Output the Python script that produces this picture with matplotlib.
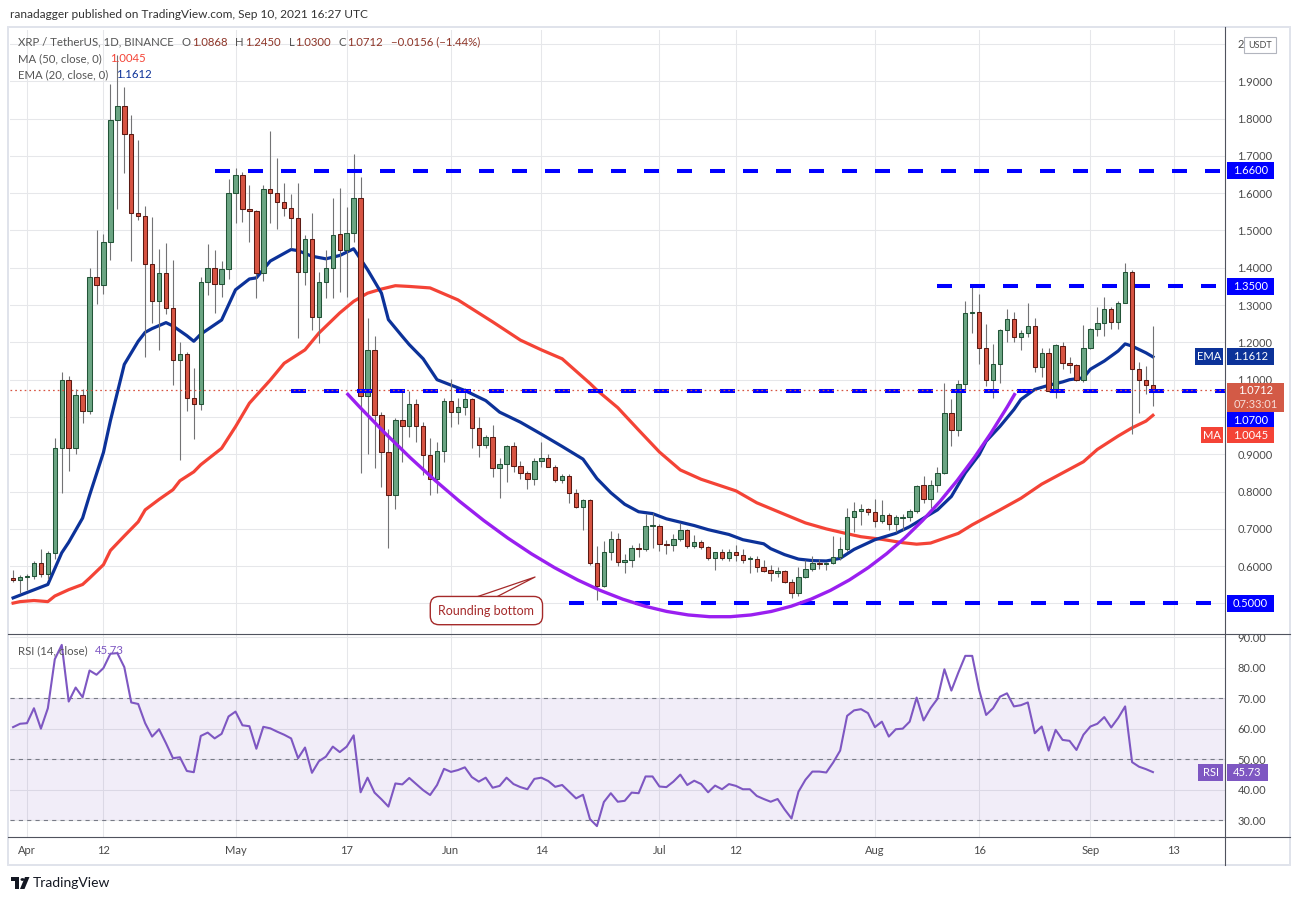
import numpy as np
import pandas as pd
import matplotlib
matplotlib.use("Agg")
import matplotlib.pyplot as plt
from matplotlib.patches import Rectangle, PathPatch, Circle, Polygon
from matplotlib.path import Path

plt.rcParams['font.family'] = ['Lato', 'DejaVu Sans']
plt.rcParams['lines.scale_dashes'] = False

# ---------------- data (XRP/USDT daily, 2021-03-30 .. 2021-09-10) ----------------
start_date = "2021-03-30"
opens = [0.567, 0.563, 0.572, 0.573, 0.609, 0.580, 0.636, 0.918, 1.098, 0.916,
         1.058, 1.017, 1.375, 1.353, 1.468, 1.796, 1.834, 1.760, 1.548, 1.540,
         1.409, 1.310, 1.385, 1.291, 1.153, 1.170, 1.050, 1.036, 1.363, 1.400,
         1.357, 1.397, 1.600, 1.650, 1.558, 1.553, 1.386, 1.612, 1.601, 1.577,
         1.561, 1.534, 1.389, 1.478, 1.268, 1.362, 1.400, 1.491, 1.447, 1.494,
         1.588, 1.056, 1.180, 1.005, 0.905, 0.790, 0.992, 0.975, 1.035, 0.975,
         0.899, 0.833, 0.908, 1.042, 1.013, 1.026, 1.048, 0.970, 0.925, 0.947,
         0.862, 0.875, 0.923, 0.869, 0.849, 0.835, 0.883, 0.891, 0.867, 0.831,
         0.842, 0.797, 0.759, 0.777, 0.609, 0.546, 0.638, 0.673, 0.611, 0.617,
         0.649, 0.646, 0.708, 0.709, 0.659, 0.657, 0.673, 0.698, 0.655, 0.665,
         0.651, 0.621, 0.639, 0.623, 0.639, 0.629, 0.619, 0.620, 0.597, 0.590,
         0.581, 0.587, 0.557, 0.527, 0.572, 0.592, 0.609, 0.607, 0.609, 0.624,
         0.646, 0.732, 0.749, 0.753, 0.745, 0.722, 0.737, 0.713, 0.730, 0.731,
         0.748, 0.817, 0.780, 0.817, 0.850, 1.011, 0.964, 1.089, 1.279, 1.282,
         1.185, 1.098, 1.142, 1.234, 1.263, 1.215, 1.226, 1.245, 1.135, 1.172,
         1.070, 1.190, 1.146, 1.139, 1.100, 1.186, 1.237, 1.253, 1.290, 1.255,
         1.306, 1.389, 1.129, 1.100, 1.0868]
highs = [0.590, 0.576, 0.578, 0.613, 0.645, 0.640, 0.944, 1.120, 1.110, 1.074,
         1.074, 1.400, 1.500, 1.490, 1.894, 1.970, 1.886, 1.810, 1.742, 1.566,
         1.537, 1.450, 1.467, 1.420, 1.200, 1.175, 1.130, 1.375, 1.464, 1.449,
         1.419, 1.639, 1.667, 1.658, 1.621, 1.556, 1.623, 1.766, 1.693, 1.626,
         1.597, 1.626, 1.489, 1.546, 1.390, 1.449, 1.586, 1.613, 1.564, 1.704,
         1.644, 1.265, 1.218, 1.014, 0.968, 0.997, 1.071, 1.071, 1.048, 0.987,
         0.943, 0.932, 1.051, 1.102, 1.050, 1.077, 1.050, 0.999, 0.952, 0.978,
         0.890, 0.926, 0.932, 0.883, 0.856, 0.890, 0.932, 0.900, 0.872, 0.846,
         0.846, 0.806, 0.781, 0.781, 0.654, 0.667, 0.695, 0.689, 0.634, 0.657,
         0.663, 0.739, 0.743, 0.713, 0.671, 0.687, 0.717, 0.699, 0.683, 0.669,
         0.655, 0.627, 0.645, 0.646, 0.657, 0.645, 0.627, 0.628, 0.617, 0.604,
         0.597, 0.590, 0.565, 0.599, 0.617, 0.626, 0.619, 0.612, 0.682, 0.677,
         0.757, 0.771, 0.768, 0.757, 0.780, 0.777, 0.742, 0.738, 0.740, 0.753,
         0.819, 0.842, 0.831, 0.866, 1.091, 1.047, 1.098, 1.311, 1.349, 1.329,
         1.248, 1.197, 1.237, 1.290, 1.282, 1.232, 1.306, 1.266, 1.185, 1.185,
         1.197, 1.200, 1.162, 1.141, 1.246, 1.239, 1.296, 1.321, 1.296, 1.311,
         1.413, 1.393, 1.147, 1.137, 1.2450]
lows = [0.558, 0.527, 0.535, 0.565, 0.572, 0.566, 0.620, 0.796, 0.856, 0.900,
        0.983, 1.007, 1.304, 1.330, 1.420, 1.558, 1.654, 1.419, 1.529, 1.160,
        1.251, 1.180, 1.275, 1.086, 0.885, 1.016, 0.942, 1.020, 1.328, 1.280,
        1.323, 1.370, 1.519, 1.522, 1.469, 1.319, 1.364, 1.520, 1.504, 1.539,
        1.453, 1.211, 1.355, 1.234, 1.198, 1.319, 1.319, 1.334, 1.322, 1.469,
        0.849, 0.900, 0.862, 0.813, 0.650, 0.752, 0.880, 0.947, 0.934, 0.844,
        0.791, 0.796, 0.880, 0.974, 0.981, 1.005, 0.916, 0.894, 0.918, 0.840,
        0.784, 0.827, 0.853, 0.835, 0.806, 0.818, 0.865, 0.865, 0.827, 0.822,
        0.770, 0.757, 0.697, 0.602, 0.510, 0.543, 0.617, 0.601, 0.581, 0.597,
        0.624, 0.642, 0.648, 0.642, 0.632, 0.642, 0.668, 0.649, 0.649, 0.647,
        0.617, 0.590, 0.617, 0.614, 0.614, 0.609, 0.583, 0.585, 0.585, 0.559,
        0.570, 0.554, 0.516, 0.521, 0.567, 0.587, 0.593, 0.590, 0.606, 0.617,
        0.640, 0.692, 0.711, 0.737, 0.706, 0.717, 0.697, 0.691, 0.697, 0.722,
        0.742, 0.770, 0.755, 0.799, 0.846, 0.921, 0.949, 1.069, 1.226, 1.141,
        1.082, 1.051, 1.090, 1.200, 1.200, 1.179, 1.215, 1.120, 1.108, 1.067,
        1.052, 1.128, 1.118, 1.097, 1.093, 1.182, 1.218, 1.218, 1.237, 1.237,
        1.306, 0.954, 1.012, 1.061, 1.0300]
closes = [0.563, 0.572, 0.573, 0.609, 0.580, 0.636, 0.918, 1.098, 0.916, 1.058,
          1.017, 1.375, 1.353, 1.468, 1.796, 1.834, 1.760, 1.548, 1.539, 1.409,
          1.310, 1.385, 1.291, 1.153, 1.170, 1.050, 1.036, 1.363, 1.400, 1.357,
          1.397, 1.600, 1.650, 1.558, 1.553, 1.386, 1.612, 1.601, 1.577, 1.561,
          1.534, 1.389, 1.478, 1.268, 1.362, 1.400, 1.488, 1.447, 1.494, 1.588,
          1.056, 1.180, 1.005, 0.905, 0.790, 0.992, 0.975, 1.035, 0.975, 0.899,
          0.833, 0.908, 1.042, 1.013, 1.026, 1.048, 0.970, 0.925, 0.947, 0.862,
          0.875, 0.923, 0.869, 0.849, 0.835, 0.883, 0.891, 0.867, 0.831, 0.842,
          0.797, 0.759, 0.777, 0.609, 0.546, 0.638, 0.673, 0.611, 0.617, 0.649,
          0.646, 0.709, 0.710, 0.659, 0.657, 0.673, 0.698, 0.655, 0.665, 0.651,
          0.621, 0.639, 0.623, 0.639, 0.629, 0.617, 0.620, 0.597, 0.588, 0.581,
          0.587, 0.557, 0.527, 0.572, 0.592, 0.608, 0.607, 0.609, 0.624, 0.646,
          0.732, 0.749, 0.753, 0.745, 0.722, 0.737, 0.713, 0.731, 0.732, 0.748,
          0.816, 0.780, 0.817, 0.850, 1.011, 0.964, 1.089, 1.279, 1.281, 1.185,
          1.098, 1.142, 1.234, 1.263, 1.215, 1.226, 1.245, 1.135, 1.172, 1.070,
          1.192, 1.146, 1.139, 1.100, 1.186, 1.237, 1.253, 1.290, 1.255, 1.306,
          1.389, 1.129, 1.100, 1.0868, 1.0712]

# EMA(20) and MA(50) (day index from start, value)
ema_day = [0, 5, 7, 8, 10, 11, 13, 14, 16, 18, 19, 20, 22, 23, 25, 26, 27, 30, 32, 34,
           35, 37, 40, 41, 43, 45, 47, 49, 51, 53, 54, 56, 57, 59, 61, 65, 68, 70, 73, 76,
           79, 82, 84, 86, 88, 90, 92, 94, 96, 98, 100, 103, 105, 108, 109, 111, 113, 115, 117, 119,
           121, 124, 127, 129, 132, 133, 135, 137, 139, 140, 142, 144, 145, 147, 149, 151, 152, 154, 155, 157,
           159, 160, 161, 163, 164]
ema_val = [0.515, 0.551, 0.636, 0.664, 0.729, 0.790, 0.905, 0.990, 1.141, 1.203, 1.227, 1.237, 1.253, 1.244, 1.218, 1.203, 1.222, 1.260, 1.341, 1.370,
           1.373, 1.418, 1.449, 1.446, 1.431, 1.424, 1.433, 1.451, 1.395, 1.332, 1.261, 1.216, 1.194, 1.156, 1.100, 1.071, 1.044, 1.013, 0.986, 0.954,
           0.921, 0.887, 0.835, 0.797, 0.766, 0.746, 0.741, 0.727, 0.718, 0.709, 0.698, 0.685, 0.671, 0.660, 0.647, 0.631, 0.619, 0.615, 0.614, 0.621,
           0.645, 0.671, 0.688, 0.706, 0.740, 0.751, 0.787, 0.850, 0.899, 0.935, 0.975, 1.020, 1.047, 1.074, 1.085, 1.094, 1.100, 1.105, 1.128, 1.150,
           1.177, 1.196, 1.190, 1.172, 1.1612]
ma_day = [0, 1, 3, 5, 6, 8, 10, 11, 13, 14, 16, 18, 19, 21, 23, 24, 26, 27, 30, 32,
          34, 37, 39, 42, 44, 47, 49, 51, 53, 55, 57, 60, 64, 69, 73, 76, 79, 83, 84, 87,
          90, 93, 96, 99, 104, 107, 111, 114, 117, 120, 122, 125, 128, 130, 132, 134, 136, 138, 140, 142,
          145, 148, 151, 154, 156, 159, 161, 163, 164]
ma_val = [0.501, 0.505, 0.508, 0.505, 0.520, 0.537, 0.551, 0.568, 0.604, 0.642, 0.681, 0.719, 0.751, 0.779, 0.805, 0.829, 0.853, 0.872, 0.916, 0.974,
          1.037, 1.099, 1.144, 1.180, 1.225, 1.279, 1.310, 1.332, 1.343, 1.352, 1.350, 1.346, 1.314, 1.255, 1.206, 1.180, 1.156, 1.090, 1.072, 1.025,
          0.965, 0.906, 0.858, 0.833, 0.802, 0.770, 0.739, 0.716, 0.700, 0.687, 0.679, 0.672, 0.663, 0.659, 0.662, 0.675, 0.688, 0.711, 0.731, 0.751,
          0.782, 0.820, 0.850, 0.880, 0.913, 0.949, 0.971, 0.989, 1.0045]
rsi = [60.5, 61.6, 61.8, 66.7, 60.0, 66.7, 82.8, 87.5, 68.9, 73.5,
       70.3, 79.1, 77.7, 79.9, 84.6, 84.8, 80.2, 68.6, 68.1, 61.8,
       57.4, 59.8, 55.2, 50.3, 50.6, 46.1, 45.7, 57.6, 58.7, 56.8,
       58.3, 64.0, 65.6, 61.1, 60.8, 53.4, 60.6, 60.1, 59.0, 58.0,
       56.8, 50.3, 53.8, 45.5, 49.3, 50.8, 54.1, 52.3, 54.1, 57.8,
       39.1, 43.9, 39.0, 36.8, 34.4, 42.0, 41.7, 43.8, 41.8, 39.8,
       38.2, 41.5, 46.8, 45.8, 46.4, 47.3, 44.1, 42.6, 43.9, 40.6,
       41.2, 43.9, 41.8, 40.8, 40.1, 43.5, 43.9, 42.8, 40.9, 41.5,
       39.3, 37.1, 38.3, 30.3, 28.0, 35.9, 38.8, 36.0, 36.3, 39.0,
       38.8, 44.3, 44.3, 41.0, 40.8, 42.6, 44.9, 41.5, 42.9, 41.8,
       39.1, 41.3, 40.1, 41.8, 41.2, 40.1, 40.1, 37.9, 36.9, 36.0,
       36.9, 33.5, 30.5, 39.3, 43.2, 45.9, 45.9, 45.6, 48.9, 52.8,
       64.2, 66.0, 66.4, 65.1, 60.5, 62.3, 57.4, 59.8, 60.0, 62.3,
       70.2, 62.7, 66.7, 69.8, 79.5, 72.5, 78.4, 83.9, 83.9, 72.7,
       64.5, 66.7, 70.5, 71.6, 67.3, 67.7, 68.6, 58.5, 60.7, 52.8,
       59.6, 56.3, 56.0, 53.0, 58.0, 60.7, 61.6, 63.8, 60.4, 63.5,
       67.3, 49.0, 47.5, 46.7, 45.73]

tick_dates = ["2021-04-01", "2021-04-12", "2021-05-01", "2021-05-17", "2021-06-01", "2021-06-14",
              "2021-07-01", "2021-07-12", "2021-08-01", "2021-08-16", "2021-09-01", "2021-09-13"]
tick_labels = ["Apr", "12", "May", "17", "Jun", "14", "Jul", "12", "Aug", "16", "Sep", "13"]
price_ticks = [0.5, 0.6, 0.7, 0.8, 0.9, 1.0, 1.1, 1.2, 1.3, 1.4, 1.5, 1.6, 1.7, 1.8, 1.9, 2.0]
# labels hidden behind the pinned value boxes in the reference
price_tick_labels = ["", "0.6000", "0.7000", "0.8000", "0.9000", "", "1.1000", "1.2000",
                     "1.3000", "1.4000", "1.5000", "1.6000", "1.7000", "1.8000", "1.9000", "2"]
rsi_ticks = [30, 40, 50, 60, 70, 80, 90]
levels = [1.66, 1.35, 1.07, 0.50]
level_start = ["2021-04-28", "2021-08-10", "2021-05-09", "2021-06-18"]
last_price = 1.0712
last_ema, last_ma, last_rsi = 1.1612, 1.0045, 45.73

# ---------------- figure ----------------
W, H = 1298, 900
fig = plt.figure(figsize=(W / 100, H / 100), dpi=100)
fig.patch.set_facecolor("white")

def px_axes(left, top, right, bottom):
    return fig.add_axes([left / W, 1 - bottom / H, (right - left) / W, (bottom - top) / H])

ax = px_axes(10, 30, 1225, 634)
axr = px_axes(10, 634, 1225, 837)

start = pd.Timestamp(start_date)
n = len(closes)
xi = np.arange(n)
o, h, l, c = map(np.array, (opens, highs, lows, closes))
tick_pos = [(pd.Timestamp(d) - start).days for d in tick_dates]

XL, XR = -0.446, 174.37
GRID = "#e6e7ea"
LBL = "#4a4a4a"
for a in (ax, axr):
    a.set_xlim(XL, XR)
    for s in a.spines.values():
        s.set_visible(False)
    a.set_xticks(tick_pos)
    a.yaxis.tick_right()
    a.grid(True, color=GRID, lw=0.75, zorder=0)
    a.set_axisbelow(True)
    a.tick_params(axis="both", length=0, labelsize=8, labelcolor=LBL)
    a.tick_params(axis="y", pad=9)
ax.set_xticklabels([])
axr.set_xticklabels(tick_labels)
axr.tick_params(axis="x", pad=6)

ax.set_ylim(0.4182, 2.0375)
ax.set_yticks(price_ticks)
ax.set_yticklabels(price_tick_labels)
axr.set_ylim(24.42, 91.08)
axr.set_yticks(rsi_ticks)
axr.set_yticklabels([f"{v:.2f}" for v in rsi_ticks])

# ---------------- candles ----------------
up = c >= o
fill = np.where(up, "#6ba583", "#d75442")
edge = np.where(up, "#225437", "#5b1a13")
ax.vlines(xi, l, h, color="#737375", lw=0.8, zorder=4)
ax.bar(xi, np.maximum(np.abs(c - o), 0.002), bottom=np.minimum(o, c), width=0.64,
       color=fill, edgecolor=edge, linewidth=0.75, zorder=5)

# ---------------- indicators ----------------
ax.plot(ma_day, ma_val, color="#f44336", lw=2.3, zorder=3, solid_joinstyle="round")
ax.plot(ema_day, ema_val, color="#0c3299", lw=2.3, zorder=3, solid_joinstyle="round")

# horizontal levels (drawings)
for lv, sd in zip(levels, level_start):
    xs = (pd.Timestamp(sd) - start).days
    ax.plot([xs, XR], [lv, lv], color="#0000ff", lw=2.9, ls=(0, (10.8, 12.96)),
            dash_capstyle="butt", zorder=6)

# current price dotted line
ax.axhline(last_price, color="#d75442", lw=0.9, ls=(0, (1.2, 2.2)), zorder=7)

# rounding bottom arc (quadratic curve)
arc_points = [(48.0, 1.064), (107.3, -0.136), (144.2, 1.064)]
arc = Path(arc_points, [Path.MOVETO, Path.CURVE3, Path.CURVE3])
ax.add_patch(PathPatch(arc, fc="none", ec="#9a1ff0", lw=2.4, zorder=6))

# callout
ax.plot([66.9, 75.1, 69.7], [0.519, 0.571, 0.519], color="#a52a2a", lw=0.9, zorder=8)
ax.text(68.1, 0.481, "Rounding bottom", ha="center", va="center", color="#a52a2a",
        fontsize=9, zorder=9,
        bbox=dict(boxstyle="round,pad=0.65,rounding_size=0.7", fc="white", ec="#a52a2a", lw=1.0))

# ---------------- RSI ----------------
axr.axhspan(30, 70, color="#7e57c2", alpha=0.1, lw=0, zorder=1)
for lv in (30, 50, 70):
    axr.axhline(lv, color="#787b86", lw=0.8, ls=(0, (3, 3)), zorder=2)
axr.plot(xi, rsi, color="#7e57c2", lw=1.5, zorder=4)

# ---------------- frame lines ----------------
def fline(x0, y0, x1, y1, color, lw=0.8):
    fig.add_artist(plt.Line2D([x0 / W, x1 / W], [1 - y0 / H, 1 - y1 / H],
                              transform=fig.transFigure, color=color, lw=lw))

fig.add_artist(Rectangle((8 / W, 1 - 865 / H), 1282 / W, 838 / H, transform=fig.transFigure,
                         fc="none", ec="#e0e3eb", lw=1.4))
fline(1225, 27, 1225, 865, "#50535e")
fline(8, 634, 1290, 634, "#50535e")
fline(8, 837, 1290, 837, "#50535e")

# ---------------- text helpers ----------------
renderer = fig.canvas.get_renderer()

def rich(x, y, parts, size=8.2):
    for s, col, gap in parts:
        t = fig.text(x / W, 1 - y / H, s, color=col, fontsize=size, va="center", ha="left")
        x += t.get_window_extent(renderer=renderer).width + gap

def ypx(axis, v):
    return H - axis.transData.transform((0, v))[1]

def pbox(x0, x1, yc, hgt, fc, text, size=8, tc="white"):
    fig.add_artist(Rectangle((x0 / W, 1 - (yc + hgt / 2) / H), (x1 - x0) / W, hgt / H,
                             transform=fig.transFigure, fc=fc, ec="none", zorder=10))
    if text:
        fig.text((x0 + x1) / 2 / W, 1 - yc / H, text, color=tc, fontsize=size,
                 ha="center", va="center", zorder=11)

# header
fig.text(10 / W, 1 - 14 / H, "ranadagger published on TradingView.com, Sep 10, 2021 16:27 UTC",
         fontsize=8.6, color="#333333", va="center")

GR = "#555555"
RED = "#8e3528"
rich(18, 42, [("XRP / TetherUS, 1D, BINANCE", GR, 8), ("O", GR, 1), ("1.0868", RED, 8),
              ("H", GR, 1), ("1.2450", RED, 8), ("L", GR, 1), ("1.0300", RED, 8),
              ("C", GR, 1), ("1.0712", RED, 8), ("\u22120.0156 (\u22121.44%)", RED, 0)])
rich(18, 59, [("MA (50, close, 0)", GR, 8), (f"{last_ma:.4f}", "#f44336", 0)])
rich(18, 75, [("EMA (20, close, 0)", GR, 8), (f"{last_ema:.4f}", "#0c3299", 0)])
rich(18, 651, [("RSI (14, close)", GR, 7), (f"{last_rsi:.2f}", "#7e57c2", 0)])

# right-axis value boxes
BX0, BX1 = 1227, 1274
pbox(BX0, BX1, ypx(ax, levels[0]), 17, "#0000ff", f"{levels[0]:.4f}")
pbox(BX0, BX1, ypx(ax, levels[1]), 17, "#0000ff", f"{levels[1]:.4f}")
ye = ypx(ax, last_ema)
pbox(1195, 1223, ye, 17, "#0c3299", "EMA")
pbox(BX0, BX1, ye, 17, "#0c3299", f"{last_ema:.4f}")
yp = ypx(ax, last_price)
pbox(BX0, 1284, yp + 7, 29, "#d35a46", None)
fig.text((BX0 + 1284) / 2 / W, 1 - (yp + 0.5) / H, f"{last_price:.4f}", color="white",
         fontsize=8, ha="center", va="center", zorder=11)
fig.text((BX0 + 1284) / 2 / W, 1 - (yp + 14.5) / H, "07:33:01", color="#f6dcd7",
         fontsize=8, ha="center", va="center", zorder=11)
pbox(BX0, BX1, yp + 30, 16, "#0000ff", f"{levels[2]:.4f}")
pbox(1201, 1223, yp + 45, 16, "#f44336", "MA")
pbox(BX0, BX1, yp + 45, 16, "#f44336", f"{last_ma:.4f}")
pbox(BX0, BX1, ypx(ax, levels[3]), 17, "#0000ff", f"{levels[3]:.4f}")
yr = ypx(axr, last_rsi)
pbox(1198, 1223, yr, 17, "#7e57c2", "RSI")
pbox(BX0, 1268, yr, 17, "#7e57c2", f"{last_rsi:.2f}")

# USDT currency box
fig.add_artist(Rectangle((1244 / W, 1 - 53 / H), 32 / W, 16 / H, transform=fig.transFigure,
                         fc="white", ec="#b2b5be", lw=0.8, zorder=10))
fig.text(1260 / W, 1 - 45 / H, "USDT", fontsize=6.5, color=LBL, ha="center", va="center", zorder=11)

# TradingView logo
fig.add_artist(Polygon([[11 / W, 1 - 877 / H], [19 / W, 1 - 877 / H], [19 / W, 1 - 889 / H],
                        [15 / W, 1 - 889 / H], [15 / W, 1 - 881 / H], [11 / W, 1 - 881 / H]],
                       closed=True, transform=fig.transFigure, fc="#131722", ec="none"))
fig.add_artist(Circle((22.5 / W, 1 - 879.5 / H), 2.0 / W, transform=fig.transFigure,
                      fc="#131722", ec="none"))
fig.add_artist(Polygon([[25 / W, 1 - 877 / H], [29.5 / W, 1 - 877 / H], [24.5 / W, 1 - 889 / H],
                        [20 / W, 1 - 889 / H]], closed=True, transform=fig.transFigure,
                       fc="#131722", ec="none"))
fig.text(33 / W, 1 - 883 / H, "TradingView", fontsize=10, color="#131722",
         va="center", ha="left")

fig.savefig("out.png", dpi=100, facecolor="white")
